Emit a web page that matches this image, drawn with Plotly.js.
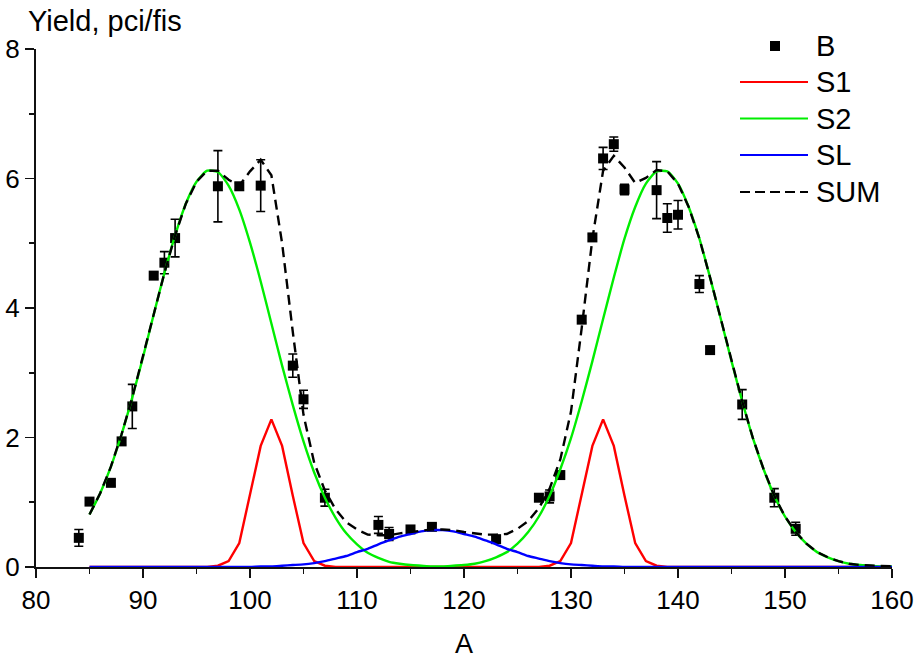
<!DOCTYPE html>
<html>
<head>
<meta charset="utf-8">
<script src="https://cdn.plot.ly/plotly-3.0.1.min.js"></script>
<style>
  html, body { margin: 0; padding: 0; background: #fff; }
  #chart { width: 919px; height: 659px; }
</style>
</head>
<body>
<div id="chart"></div>
<script>
// Measured yields (B) with uncertainties
const massB  = [84, 85, 87, 88, 89, 91, 92, 93, 97, 99, 101, 104, 105, 107, 112, 113, 115, 117, 123,
                127, 128, 129, 131, 132, 133, 134, 135, 138, 139, 140, 142, 143, 146, 149, 151];
const yieldB = [0.45, 1.01, 1.30, 1.94, 2.48, 4.50, 4.70, 5.08, 5.88, 5.88, 5.89, 3.11, 2.59, 1.07, 0.65, 0.51, 0.58, 0.62, 0.43,
                1.07, 1.09, 1.42, 3.82, 5.09, 6.31, 6.53, 5.83, 5.82, 5.39, 5.44, 4.37, 3.35, 2.51, 1.07, 0.59];
const errB   = [0.13, 0.05, 0.05, 0.05, 0.34, 0.05, 0.17, 0.29, 0.55, 0.05, 0.40, 0.18, 0.14, 0.13, 0.13, 0.10, 0.05, 0.05, 0.05,
                0.05, 0.10, 0.05, 0.05, 0.05, 0.17, 0.11, 0.08, 0.44, 0.22, 0.22, 0.13, 0.05, 0.23, 0.14, 0.10];

// Fit components, sampled at each mass number A = 85 ... 160
const massFit = [85, 86, 87, 88, 89, 90, 91, 92, 93, 94, 95, 96, 97, 98, 99, 100, 101, 102, 103, 104,
                 105, 106, 107, 108, 109, 110, 111, 112, 113, 114, 115, 116, 117, 118, 119, 120, 121, 122, 123, 124,
                 125, 126, 127, 128, 129, 130, 131, 132, 133, 134, 135, 136, 137, 138, 139, 140, 141, 142, 143, 144,
                 145, 146, 147, 148, 149, 150, 151, 152, 153, 154, 155, 156, 157, 158, 159, 160];
const fitS1  = [0, 0, 0, 0, 0, 0, 0, 0, 0, 0, 0, 0, 0.02, 0.09, 0.37, 1.10, 1.87, 2.28, 1.87, 1.10,
                0.37, 0.09, 0.02, 0, 0, 0, 0, 0, 0, 0, 0, 0, 0, 0, 0, 0, 0, 0, 0, 0,
                0, 0, 0, 0.02, 0.09, 0.37, 1.10, 1.87, 2.28, 1.87, 1.10, 0.37, 0.09, 0.02, 0, 0, 0, 0, 0, 0,
                0, 0, 0, 0, 0, 0, 0, 0, 0, 0, 0, 0, 0, 0, 0, 0];
const fitS2  = [0.81, 1.14, 1.55, 2.05, 2.62, 3.24, 3.90, 4.54, 5.12, 5.61, 5.95, 6.12, 6.10, 5.89, 5.52, 5.01, 4.41, 3.76, 3.11, 2.50,
                1.94, 1.46, 1.07, 0.76, 0.52, 0.35, 0.22, 0.14, 0.08, 0.05, 0.03, 0.02, 0.01, 0.01, 0.02, 0.03, 0.05, 0.09, 0.15, 0.23,
                0.36, 0.54, 0.78, 1.10, 1.51, 1.99, 2.56, 3.18, 3.83, 4.47, 5.07, 5.56, 5.92, 6.11, 6.11, 5.92, 5.56, 5.07, 4.47, 3.83,
                3.18, 2.56, 1.99, 1.51, 1.10, 0.78, 0.54, 0.36, 0.23, 0.15, 0.09, 0.05, 0.03, 0.02, 0.01, 0.01];
const fitSL  = [0, 0, 0, 0, 0, 0, 0, 0, 0, 0, 0, 0, 0, 0, 0, 0, 0.01, 0.01, 0.02, 0.03,
                0.04, 0.06, 0.09, 0.13, 0.17, 0.23, 0.28, 0.35, 0.41, 0.47, 0.51, 0.55, 0.57, 0.57, 0.55, 0.51, 0.47, 0.41, 0.35, 0.28,
                0.23, 0.17, 0.13, 0.09, 0.06, 0.04, 0.03, 0.02, 0.01, 0.01, 0, 0, 0, 0, 0, 0, 0, 0, 0, 0,
                0, 0, 0, 0, 0, 0, 0, 0, 0, 0, 0, 0, 0, 0, 0, 0];
const fitSUM = [0.81, 1.14, 1.55, 2.05, 2.62, 3.24, 3.90, 4.54, 5.12, 5.61, 5.95, 6.12, 6.12, 5.98, 5.89, 6.11, 6.29, 6.05, 5.00, 3.63,
                2.35, 1.61, 1.18, 0.89, 0.69, 0.58, 0.50, 0.49, 0.49, 0.52, 0.54, 0.57, 0.58, 0.58, 0.57, 0.54, 0.52, 0.50, 0.50, 0.51,
                0.59, 0.71, 0.91, 1.21, 1.66, 2.40, 3.69, 5.07, 6.12, 6.35, 6.17, 5.93, 6.01, 6.13, 6.11, 5.92, 5.56, 5.07, 4.47, 3.83,
                3.18, 2.56, 1.99, 1.51, 1.10, 0.78, 0.54, 0.36, 0.23, 0.15, 0.09, 0.05, 0.03, 0.02, 0.01, 0.01];

const seriesNames = ['B', 'S1', 'S2', 'SL', 'SUM'];
const seriesColors = ['#000000', '#ff0000', '#00ee00', '#0000ff', '#000000'];

const FONT = 'Liberation Sans, Arial, Helvetica, sans-serif';
const INK = '#000000';
const LW = 2.4;

const traces = [
  {
    x: massB, y: yieldB, name: seriesNames[0], type: 'scatter', mode: 'markers',
    marker: { symbol: 'square', size: 10, color: seriesColors[0] },
    error_y: { type: 'data', array: errB, visible: true, color: '#000', thickness: 1.6, width: 4.5 },
    cliponaxis: false
  },
  {
    x: massFit, y: fitS1, name: seriesNames[1], type: 'scatter', mode: 'lines',
    line: { color: seriesColors[1], width: LW }, cliponaxis: false
  },
  {
    x: massFit, y: fitS2, name: seriesNames[2], type: 'scatter', mode: 'lines',
    line: { color: seriesColors[2], width: LW, shape: 'spline', smoothing: 0.6 }, cliponaxis: false
  },
  {
    x: massFit, y: fitSL, name: seriesNames[3], type: 'scatter', mode: 'lines',
    line: { color: seriesColors[3], width: LW, shape: 'spline', smoothing: 0.6 }, cliponaxis: false
  },
  {
    x: massFit, y: fitSUM, name: seriesNames[4], type: 'scatter', mode: 'lines',
    line: { color: seriesColors[4], width: LW, dash: '10px,6px' }, cliponaxis: false
  }
];

// Hand-placed legend block in the upper right corner (pixel geometry of the plot area)
const plotL = 36, plotT = 49, plotW = 856, plotH = 518;
const px = v => (v - plotL) / plotW;
const py = v => (plotT + plotH - v) / plotH;
const rowY = [46, 82, 118.5, 155, 192];
const lineX0 = 740, lineX1 = 808, textX = 814;

const shapes = [];
const annotations = [];
rowY.forEach((yy, i) => {
  if (i === 0) {
    shapes.push({
      type: 'rect', xref: 'paper', yref: 'paper',
      x0: px(770), x1: px(780), y0: py(yy + 5), y1: py(yy - 5),
      fillcolor: '#000', line: { width: 0 }
    });
  } else {
    shapes.push({
      type: 'line', xref: 'paper', yref: 'paper',
      x0: px(lineX0), x1: px(lineX1), y0: py(yy), y1: py(yy),
      line: { color: seriesColors[i], width: 2, dash: i === 4 ? '10px,5px' : 'solid' }
    });
  }
  annotations.push({
    text: seriesNames[i], xref: 'paper', yref: 'paper',
    x: px(textX), y: py(yy), xanchor: 'left', yanchor: 'middle',
    showarrow: false, font: { family: FONT, size: 29, color: INK }
  });
});

annotations.push({
  text: 'Yield, pci/fis', xref: 'paper', yref: 'paper',
  x: px(26), y: py(21), xanchor: 'left', yanchor: 'middle',
  showarrow: false, font: { family: FONT, size: 29, color: INK }
});

const axisCommon = {
  showline: true, linecolor: '#111', linewidth: 2,
  showgrid: false, zeroline: false,
  ticks: 'outside', ticklen: 9, tickwidth: 1.8, tickcolor: '#111',
  tickfont: { family: FONT, size: 26, color: INK },
  layer: 'below traces', fixedrange: true
};

const layout = {
  width: 919, height: 659,
  margin: { l: plotL, r: 919 - plotL - plotW, t: plotT, b: 659 - plotT - plotH },
  paper_bgcolor: '#fff', plot_bgcolor: '#fff',
  showlegend: false,
  xaxis: Object.assign({}, axisCommon, {
    range: [80, 160], tick0: 80, dtick: 10,
    minor: { dtick: 5, ticks: 'outside', ticklen: 5, tickwidth: 1.8, tickcolor: '#111' },
    title: { text: 'A', font: { family: FONT, size: 27, color: INK }, standoff: 20 }
  }),
  yaxis: Object.assign({}, axisCommon, {
    range: [0, 8], tick0: 0, dtick: 2,
    minor: { dtick: 1, ticks: 'outside', ticklen: 5, tickwidth: 1.8, tickcolor: '#111' }
  }),
  shapes: shapes,
  annotations: annotations
};

Plotly.newPlot('chart', traces, layout, { displayModeBar: false, staticPlot: true });
</script>
</body>
</html>
